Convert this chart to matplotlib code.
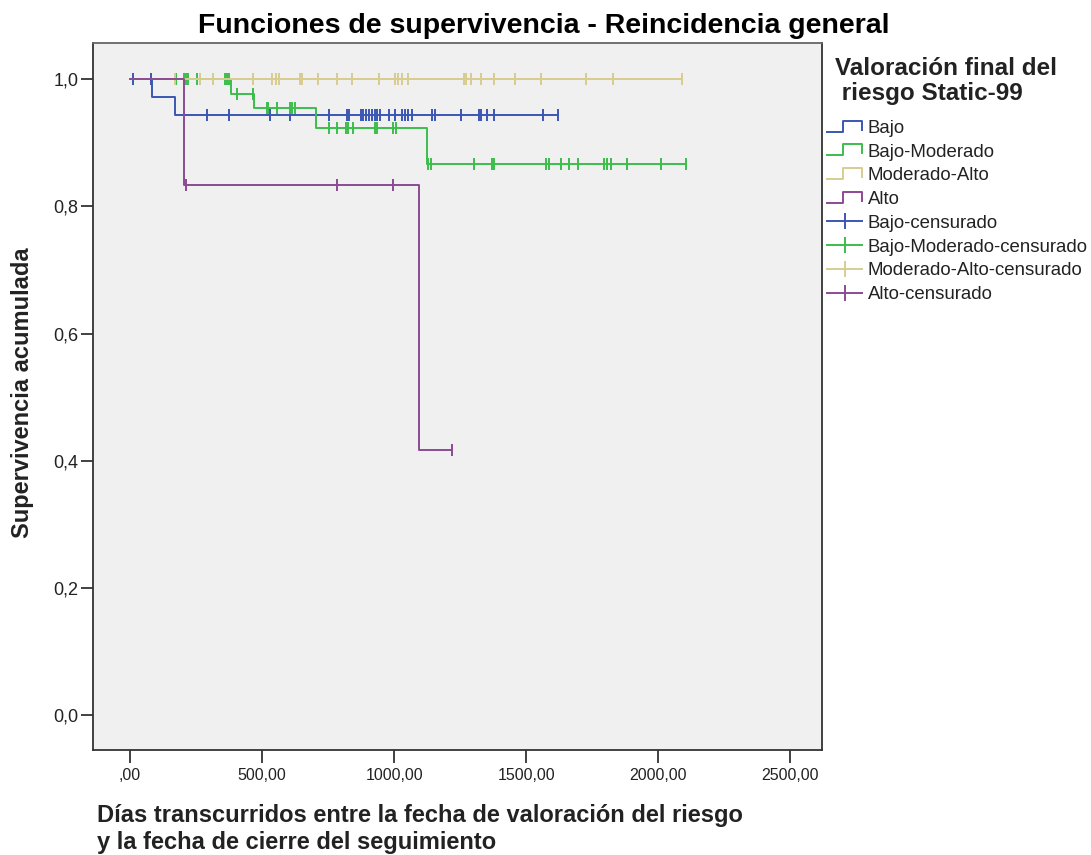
import numpy as np
import matplotlib
matplotlib.use("Agg")
import matplotlib.pyplot as plt
from matplotlib.lines import Line2D
from matplotlib.legend_handler import HandlerBase
from matplotlib.ticker import FixedLocator, FuncFormatter

plt.rcParams['font.family'] = ['Liberation Sans', 'DejaVu Sans']

# --- data (days, cumulative survival) ---
groups = ['Bajo', 'Bajo-Moderado', 'Moderado-Alto', 'Alto']
colors = ['#3b56b5', '#3dbd4c', '#d7cd90', '#8c4a93']

bajo_ev_t = [84, 170]
bajo_ev_s = [0.972, 0.944]
bajo_cens = [10, 78, 290, 376, 530, 606, 755, 823, 831, 874, 884, 894, 904,
             915, 928, 937, 947, 979, 1004, 1030, 1042, 1054, 1066, 1143,
             1153, 1252, 1323, 1330, 1351, 1380, 1563, 1620]

bm_ev_t = [381, 470, 705, 1124]
bm_ev_s = [0.977, 0.954, 0.924, 0.867]
bm_cens = [174, 204, 212, 220, 255, 360, 368, 376, 404, 467, 518, 524, 556,
           604, 612, 625, 755, 783, 818, 827, 846, 928, 937, 997, 1008, 1130,
           1139, 1303, 1370, 1380, 1575, 1585, 1631, 1664, 1698, 1793, 1805,
           1821, 1881, 2011, 2105]

ma_ev_t = []
ma_ev_s = []
ma_cens = [172, 265, 316, 467, 537, 552, 566, 644, 650, 713, 783, 840, 941,
           1004, 1016, 1029, 1054, 1263, 1273, 1290, 1330, 1380, 1458, 1556,
           1727, 1828, 2090]

alto_ev_t = [206, 1096]
alto_ev_s = [0.833, 0.417]
alto_cens = [212, 783, 995, 1218]

events_t = [bajo_ev_t, bm_ev_t, ma_ev_t, alto_ev_t]
events_s = [bajo_ev_s, bm_ev_s, ma_ev_s, alto_ev_s]
censored = [bajo_cens, bm_cens, ma_cens, alto_cens]

x_ticks = [0, 500, 1000, 1500, 2000, 2500]
y_ticks = [0.0, 0.2, 0.4, 0.6, 0.8, 1.0]

fig = plt.figure(figsize=(10.91, 8.55), dpi=100)
ax = fig.add_axes([93/1091, 1-750/855, (822-93)/1091, (750-43)/855])
ax.set_facecolor('#f0f0f0')


def surv_at(t, ev_t, ev_s):
    s = 1.0
    for et, es in zip(ev_t, ev_s):
        if et <= t:
            s = es
    return s


# draw order: yellow under, blue on top
for i in [2, 1, 3, 0]:
    et, es, cs = events_t[i], events_s[i], censored[i]
    end = max(cs)
    xs = [0] + list(et) + [end]
    ys = [1.0] + list(es) + [es[-1] if es else 1.0]
    ax.step(xs, ys, where='post', color=colors[i], lw=1.4, zorder=2 + i % 4)
    cy = [surv_at(t, et, es) for t in cs]
    ax.plot(cs, cy, ls='none', marker='|', ms=9, mew=1.4, color=colors[i],
            zorder=2 + i % 4)

ax.set_xlim(-140, 2620)
ax.set_ylim(-0.055, 1.057)
ax.xaxis.set_major_locator(FixedLocator(x_ticks))
ax.yaxis.set_major_locator(FixedLocator(y_ticks))


def fmt_x(v, pos):
    s = f"{v:.2f}".replace('.', ',')
    return s[1:] if s.startswith('0') else s


ax.xaxis.set_major_formatter(FuncFormatter(fmt_x))
ax.yaxis.set_major_formatter(FuncFormatter(lambda v, p: f"{v:.1f}".replace('.', ',')))
ax.tick_params(direction='out', length=9, width=1.3, color='#333333',
               labelcolor='#222222')
ax.tick_params(axis='y', labelsize=13, pad=1.5)
ax.tick_params(axis='x', labelsize=11.5, pad=4)
for sp in ax.spines.values():
    sp.set_color('#333333')
    sp.set_linewidth(1.3)
ax.spines['top'].set_color('#666666')

fig.text(0.498, 1-33/855, 'Funciones de supervivencia - Reincidencia general',
         ha='center', va='baseline', fontsize=20.5, fontweight='bold')
fig.text(23/1091, 1-393/855, 'Supervivencia acumulada', rotation=90,
         ha='center', va='center', fontsize=17, fontweight='bold', color='#222222')
fig.text(97/1091, 1-804/855,
         'Días transcurridos entre la fecha de valoración del riesgo\n'
         'y la fecha de cierre del seguimiento',
         ha='left', va='top', fontsize=17, fontweight='bold', color='#222222',
         linespacing=1.2)

# legend title as separate text
fig.text(835/1091, 1-57/855, 'Valoración final del\n riesgo Static-99',
         ha='left', va='top', fontsize=17.5, fontweight='bold', color='#222222',
         linespacing=1.1)


class StepHandler(HandlerBase):
    def create_artists(self, legend, orig_handle, xdescent, ydescent, width,
                       height, fontsize, trans):
        x0, y0 = -xdescent, -ydescent
        xs = [x0, x0 + 0.45*width, x0 + 0.45*width, x0 + width, x0 + width]
        ys = [y0 + 0.1*height, y0 + 0.1*height, y0 + 0.95*height,
              y0 + 0.95*height, y0 + 0.25*height]
        ln = Line2D(xs, ys, color=orig_handle.get_color(), lw=1.4,
                    transform=trans)
        return [ln]


step_handles = [Line2D([], [], color=c, lw=1.4) for c in colors]
cens_handles = [Line2D([], [], color=c, lw=1.4, marker='|', ms=12, mew=1.4)
                for c in colors]
labels = groups + [g + '-censurado' for g in groups]
handler_map = {h: StepHandler() for h in step_handles}
leg = fig.legend(step_handles + cens_handles, labels, handler_map=handler_map,
                 loc='upper left', bbox_to_anchor=(827/1091, 1-120/855),
                 frameon=False, fontsize=13.4, handlelength=1.9,
                 handletextpad=0.3, labelspacing=0.36, borderpad=0,
                 borderaxespad=0, numpoints=1)
for t in leg.get_texts():
    t.set_color('#222222')

fig.savefig('out.png', dpi=100)
